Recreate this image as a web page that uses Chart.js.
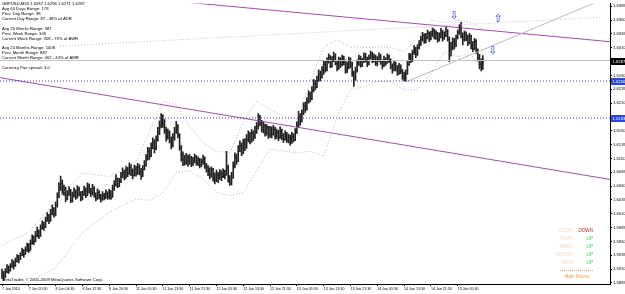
<!DOCTYPE html>
<html>
<head>
<meta charset="utf-8">
<script src="https://cdn.jsdelivr.net/npm/chart.js@4.4.1/dist/chart.umd.min.js"></script>
<style>
  html, body { margin: 0; padding: 0; background: #fff; }
  #wrap { width: 625px; height: 294px; position: relative; }
</style>
</head>
<body>
<div id="wrap"><canvas id="chart" width="625" height="294"></canvas></div>
<script>
// --- Data ---
const xTickLabels = ['7 Jan 2010', '7 Jan 20:30', '8 Jan 04:30', '8 Jan 12:30', '8 Jan 20:30',
  '11 Jan 05:30', '11 Jan 13:30', '11 Jan 21:30', '12 Jan 05:30', '12 Jan 13:30', '12 Jan 21:30',
  '13 Jan 05:30', '13 Jan 13:30', '13 Jan 21:30', '14 Jan 05:30', '14 Jan 13:30', '14 Jan 21:30', '15 Jan 05:30'];
const barsPerLabel = 16;
const yTickValues = [1.5885, 1.5910, 1.5935, 1.5960, 1.5985, 1.6010, 1.6035, 1.6060, 1.6085, 1.6110,
  1.6135, 1.6160, 1.6185, 1.6210, 1.6235, 1.6260, 1.6285, 1.6310, 1.6335, 1.6360, 1.6385];

const firstOpen = 1.5900;
const closes = [
  1.5903,1.5897,1.5906,1.5912,1.5908,1.5915,1.5921,1.5917,1.5925,1.5931,1.5928,1.5936,1.5942,1.5938,1.5946,1.5951,
  1.5945,1.5958,1.5966,1.5960,1.5972,1.5979,1.5970,1.5984,1.5991,1.5986,1.5999,1.6006,1.5998,1.6012,1.6019,1.6010,
  1.6025,1.6041,1.6058,1.6066,1.6049,1.6055,1.6038,1.6046,1.6052,1.6035,1.6043,1.6050,1.6041,1.6055,1.6047,1.6039,
  1.6046,1.6053,1.6044,1.6060,1.6052,1.6048,1.6057,1.6043,1.6038,1.6049,1.6041,1.6036,1.6044,1.6039,1.6047,1.6042,
  1.6048,1.6041,1.6057,1.6064,1.6072,1.6061,1.6069,1.6079,1.6085,1.6076,1.6090,1.6083,1.6095,1.6087,1.6080,1.6092,
  1.6084,1.6095,1.6088,1.6079,1.6091,1.6098,1.6110,1.6124,1.6115,1.6131,1.6140,1.6128,1.6146,1.6158,1.6170,1.6182,
  1.6174,1.6162,1.6150,1.6157,1.6143,1.6135,1.6148,1.6160,1.6168,1.6152,1.6130,1.6118,1.6109,1.6104,1.6112,1.6106,
  1.6110,1.6101,1.6107,1.6114,1.6103,1.6108,1.6099,1.6105,1.6111,1.6098,1.6094,1.6088,1.6081,1.6090,1.6077,1.6072,
  1.6080,1.6074,1.6083,1.6078,1.6086,1.6080,1.6094,1.6071,1.6068,1.6076,1.6098,1.6112,1.6105,1.6126,1.6134,1.6121,
  1.6139,1.6130,1.6146,1.6152,1.6141,1.6156,1.6149,1.6160,1.6168,1.6184,1.6176,1.6164,1.6170,1.6158,1.6166,1.6153,
  1.6161,1.6155,1.6164,1.6150,1.6157,1.6149,1.6160,1.6152,1.6145,1.6156,1.6143,1.6148,1.6140,1.6151,1.6146,1.6158,
  1.6170,1.6186,1.6178,1.6192,1.6205,1.6199,1.6214,1.6226,1.6218,1.6233,1.6246,1.6239,1.6252,1.6263,1.6257,1.6270,
  1.6281,1.6272,1.6286,1.6293,1.6279,1.6288,1.6296,1.6283,1.6275,1.6289,1.6280,1.6291,1.6284,1.6270,1.6278,1.6288,
  1.6279,1.6262,1.6254,1.6270,1.6283,1.6291,1.6278,1.6286,1.6295,1.6288,1.6280,1.6292,1.6299,1.6287,1.6294,1.6282,
  1.6289,1.6296,1.6285,1.6279,1.6290,1.6283,1.6294,1.6288,1.6277,1.6270,1.6281,1.6273,1.6265,1.6276,1.6268,1.6259,
  1.6255,1.6265,1.6281,1.6294,1.6288,1.6302,1.6309,1.6298,1.6312,1.6318,1.6326,1.6333,1.6322,1.6330,1.6337,1.6328,
  1.6335,1.6341,1.6330,1.6336,1.6325,1.6332,1.6339,1.6327,1.6334,1.6340,1.6326,1.6298,1.6311,1.6322,1.6316,1.6329,
  1.6338,1.6347,1.6331,1.6325,1.6335,1.6328,1.6320,1.6331,1.6316,1.6310,1.6322,1.6306,1.6294,1.6281,1.6287,1.6287
];
const highs = [
  1.5910,1.5906,1.5911,1.5918,1.5916,1.5920,1.5927,1.5925,1.5930,1.5936,1.5935,1.5940,1.5948,1.5945,1.5950,1.5957,
  1.5956,1.5963,1.5972,1.5970,1.5978,1.5986,1.5981,1.5990,1.5997,1.5995,1.6004,1.6012,1.6009,1.6018,1.6026,1.6021,
  1.6031,1.6048,1.6066,1.6078,1.6071,1.6062,1.6058,1.6052,1.6059,1.6054,1.6049,1.6057,1.6053,1.6061,1.6058,1.6050,
  1.6051,1.6060,1.6057,1.6066,1.6064,1.6056,1.6063,1.6059,1.6048,1.6055,1.6052,1.6045,1.6050,1.6047,1.6053,1.6050,
  1.6054,1.6052,1.6062,1.6070,1.6081,1.6075,1.6074,1.6085,1.6093,1.6089,1.6096,1.6094,1.6102,1.6099,1.6091,1.6098,
  1.6096,1.6101,1.6099,1.6092,1.6097,1.6106,1.6117,1.6130,1.6129,1.6138,1.6147,1.6144,1.6151,1.6166,1.6178,1.6191,
  1.6189,1.6180,1.6166,1.6163,1.6160,1.6149,1.6155,1.6166,1.6177,1.6171,1.6155,1.6133,1.6122,1.6116,1.6119,1.6116,
  1.6117,1.6114,1.6112,1.6118,1.6115,1.6113,1.6110,1.6109,1.6116,1.6113,1.6101,1.6097,1.6093,1.6095,1.6092,1.6084,
  1.6089,1.6085,1.6090,1.6088,1.6091,1.6089,1.6123,1.6098,1.6079,1.6085,1.6104,1.6120,1.6118,1.6133,1.6142,1.6138,
  1.6145,1.6146,1.6153,1.6160,1.6157,1.6162,1.6160,1.6168,1.6175,1.6191,1.6188,1.6179,1.6177,1.6172,1.6171,1.6168,
  1.6168,1.6167,1.6170,1.6166,1.6163,1.6161,1.6167,1.6163,1.6155,1.6160,1.6157,1.6154,1.6152,1.6157,1.6155,1.6164,
  1.6176,1.6195,1.6191,1.6198,1.6211,1.6212,1.6220,1.6232,1.6230,1.6240,1.6253,1.6251,1.6259,1.6270,1.6268,1.6276,
  1.6287,1.6286,1.6292,1.6299,1.6296,1.6294,1.6302,1.6299,1.6286,1.6293,1.6292,1.6297,1.6295,1.6288,1.6284,1.6293,
  1.6292,1.6284,1.6268,1.6275,1.6288,1.6297,1.6295,1.6291,1.6301,1.6300,1.6293,1.6297,1.6304,1.6302,1.6299,1.6297,
  1.6294,1.6301,1.6298,1.6288,1.6295,1.6292,1.6299,1.6297,1.6290,1.6281,1.6286,1.6284,1.6278,1.6282,1.6279,1.6271,
  1.6266,1.6270,1.6287,1.6300,1.6299,1.6306,1.6314,1.6311,1.6316,1.6323,1.6331,1.6338,1.6335,1.6336,1.6342,1.6339,
  1.6340,1.6346,1.6344,1.6341,1.6338,1.6337,1.6345,1.6342,1.6339,1.6347,1.6343,1.6330,1.6320,1.6328,1.6327,1.6333,
  1.6342,1.6352,1.6356,1.6337,1.6340,1.6339,1.6333,1.6336,1.6333,1.6321,1.6327,1.6325,1.6308,1.6298,1.6290,1.6296
];
const lows = [
  1.5893,1.5889,1.5895,1.5903,1.5902,1.5906,1.5913,1.5910,1.5915,1.5923,1.5921,1.5927,1.5934,1.5931,1.5937,1.5942,
  1.5940,1.5944,1.5955,1.5954,1.5959,1.5968,1.5965,1.5969,1.5982,1.5980,1.5985,1.5996,1.5992,1.5996,1.6008,1.6004,
  1.6006,1.6022,1.6039,1.6052,1.6045,1.6043,1.6032,1.6035,1.6043,1.6030,1.6031,1.6040,1.6036,1.6038,1.6042,1.6033,
  1.6035,1.6043,1.6039,1.6042,1.6047,1.6041,1.6044,1.6040,1.6033,1.6036,1.6037,1.6031,1.6034,1.6035,1.6038,1.6036,
  1.6037,1.6036,1.6040,1.6052,1.6060,1.6057,1.6059,1.6066,1.6075,1.6071,1.6074,1.6077,1.6081,1.6079,1.6073,1.6078,
  1.6078,1.6081,1.6080,1.6072,1.6077,1.6089,1.6096,1.6107,1.6108,1.6113,1.6127,1.6120,1.6126,1.6141,1.6153,1.6165,
  1.6166,1.6155,1.6141,1.6145,1.6138,1.6127,1.6131,1.6143,1.6155,1.6147,1.6125,1.6105,1.6097,1.6098,1.6099,1.6096,
  1.6099,1.6095,1.6097,1.6102,1.6098,1.6097,1.6093,1.6095,1.6099,1.6092,1.6085,1.6079,1.6073,1.6076,1.6069,1.6064,
  1.6068,1.6066,1.6072,1.6070,1.6075,1.6073,1.6080,1.6067,1.6061,1.6062,1.6074,1.6093,1.6099,1.6104,1.6122,1.6115,
  1.6118,1.6124,1.6128,1.6140,1.6136,1.6139,1.6142,1.6146,1.6155,1.6163,1.6169,1.6158,1.6156,1.6150,1.6152,1.6146,
  1.6148,1.6147,1.6152,1.6145,1.6146,1.6142,1.6146,1.6144,1.6139,1.6143,1.6139,1.6138,1.6134,1.6137,1.6140,1.6142,
  1.6155,1.6166,1.6170,1.6176,1.6189,1.6193,1.6197,1.6210,1.6212,1.6216,1.6230,1.6234,1.6238,1.6249,1.6250,1.6255,
  1.6262,1.6266,1.6268,1.6282,1.6274,1.6275,1.6285,1.6279,1.6268,1.6271,1.6274,1.6277,1.6279,1.6264,1.6265,1.6272,
  1.6274,1.6258,1.6240,1.6251,1.6266,1.6278,1.6275,1.6276,1.6283,1.6284,1.6276,1.6279,1.6290,1.6283,1.6284,1.6278,
  1.6277,1.6285,1.6280,1.6272,1.6276,1.6278,1.6282,1.6283,1.6272,1.6264,1.6268,1.6268,1.6260,1.6262,1.6263,1.6253,
  1.6250,1.6249,1.6262,1.6278,1.6283,1.6285,1.6298,1.6292,1.6296,1.6308,1.6314,1.6322,1.6318,1.6319,1.6326,1.6321,
  1.6324,1.6330,1.6326,1.6325,1.6320,1.6322,1.6328,1.6322,1.6325,1.6330,1.6322,1.6285,1.6295,1.6306,1.6308,1.6312,
  1.6326,1.6334,1.6328,1.6315,1.6322,1.6323,1.6314,1.6317,1.6308,1.6303,1.6306,1.6300,1.6286,1.6272,1.6268,1.6271
];

// Bollinger bands, sampled from the dotted curves
const bandBars  = [0, 16, 32, 48, 64, 72, 80, 88, 96, 104, 112, 120, 128, 136, 144, 152, 160, 168, 176, 184, 192, 200, 208, 216, 224, 232, 240, 248, 256, 264, 272, 280, 287];
const bandUpper = [1.5953, 1.5976, 1.6034, 1.6084, 1.6077, 1.6091, 1.6105, 1.6159, 1.6213, 1.6208, 1.6168, 1.6138, 1.6123, 1.6120, 1.6177, 1.6213, 1.6199, 1.6186, 1.6181, 1.6249, 1.6311, 1.6324, 1.6311, 1.6311, 1.6311, 1.6311, 1.6303, 1.6329, 1.6360, 1.6356, 1.6360, 1.6356, 1.6342];
const bandLower = [1.5872, 1.5887, 1.5912, 1.5976, 1.6012, 1.6025, 1.6037, 1.6034, 1.6048, 1.6084, 1.6088, 1.6073, 1.6048, 1.6043, 1.6048, 1.6088, 1.6127, 1.6123, 1.6120, 1.6123, 1.6114, 1.6186, 1.6234, 1.6240, 1.6249, 1.6249, 1.6234, 1.6234, 1.6263, 1.6303, 1.6294, 1.6299, 1.6263];

// Objects drawn on the chart
const bidPrice = 1.6287;
const levelPrices = [1.6250, 1.6183];
const upperPurpleBars = [111, 362.9];
const upperPurplePrices = [1.6392, 1.6321];
const lowerPurpleBars = [-1.2, 362.9];
const lowerPurplePrices = [1.6256, 1.6072];
const grayTrendBars = [241.8, 363];
const grayTrendPrices = [1.6249, 1.6403];
const dottedTrendBars = [34.6, 357];
const dottedTrendPrices = [1.6313, 1.6365];
const arrowBars = [269.9, 296.1, 293];
const arrowPrices = [1.6367, 1.6362, 1.6304];
const arrowGlyphs = ['\u21E9', '\u21E7', '\u21E9'];

const infoLines = [
  ['GBPUSD,M30 1.6287 1.6296 1.6271 1.6287', 4],
  ['Avg 60 Days Range: 178', 9],
  ['Prev. Day Range: 98', 14],
  ['Current Day Range: 87 - 48% of ADR', 19],
  ['Avg 26 Weeks Range: 587', 29],
  ['Prev. Week Range: 345', 34],
  ['Current Week Range: 308 - 79% of AWR', 39],
  ['Avg 24 Months Range: 1008', 48],
  ['Prev. Month Range: 887', 53],
  ['Current Month Range: 462 - 44% of AMR', 58],
  ['Currency Pair spread: 3.0', 68]
];
const moveNames = ['TODAY', 'Y-DAY', 'WEEK', 'MONTH', 'YEAR'];
const moveValues = ['DOWN', 'UP', 'UP', 'UP', 'UP'];

const FONT = 'Liberation Sans, Arial, sans-serif';

const pts = (xs, ys) => xs.map((v, i) => ({ x: v, y: ys[i] }));
const lineSet = (data, color, dash) => ({
  type: 'line', data, borderColor: color, borderWidth: 1, borderDash: dash || [],
  pointRadius: 0, fill: false, tension: 0
});

// --- Plugins ---
const ohlcTicks = {
  id: 'ohlcTicks',
  afterDatasetsDraw(chart) {
    const { ctx, chartArea, scales: { x, y } } = chart;
    ctx.save();
    ctx.beginPath();
    ctx.rect(chartArea.left, chartArea.top, chartArea.width, chartArea.height);
    ctx.clip();
    ctx.strokeStyle = '#222';
    ctx.lineWidth = 1;
    ctx.beginPath();
    closes.forEach((c, i) => {
      const px = x.getPixelForValue(i);
      const o = i ? closes[i - 1] : firstOpen;
      const yo = Math.round(y.getPixelForValue(o)) + 0.5;
      const yc = Math.round(y.getPixelForValue(c)) + 0.5;
      ctx.moveTo(px - 0.9, yo); ctx.lineTo(px, yo);
      ctx.moveTo(px, yc); ctx.lineTo(px + 0.9, yc);
    });
    ctx.stroke();
    // arrows
    ctx.fillStyle = '#2a3cc8';
    ctx.font = '11px DejaVu Sans';
    ctx.textAlign = 'center';
    ctx.textBaseline = 'middle';
    arrowGlyphs.forEach((g, i) => {
      ctx.fillText(g, x.getPixelForValue(arrowBars[i]), y.getPixelForValue(arrowPrices[i]));
    });
    ctx.restore();
  }
};

const overlays = {
  id: 'overlays',
  afterDraw(chart) {
    const { ctx, chartArea, scales: { y } } = chart;
    ctx.save();
    // price boxes on the axis
    const box = (price, bg) => {
      const py = Math.round(y.getPixelForValue(price));
      ctx.fillStyle = bg;
      ctx.fillRect(chartArea.right + 1, py - 3, 14, 7);
      ctx.fillStyle = '#fff';
      ctx.font = '4.2px ' + FONT;
      ctx.textAlign = 'left';
      ctx.textBaseline = 'middle';
      ctx.fillText(price.toFixed(4), chartArea.right + 2.5, py + 0.5);
    };
    box(bidPrice, '#000');
    levelPrices.forEach(p => box(p, '#2b45e6'));

    // info text, top-left
    ctx.fillStyle = '#000';
    ctx.font = '4.2px ' + FONT;
    ctx.textAlign = 'left';
    ctx.textBaseline = 'middle';
    infoLines.forEach(([t, ty]) => ctx.fillText(t, 2, ty));
    ctx.fillText('MetaTrader, \u00A9 2001-2009 MetaQuotes Software Corp.', 2, 280);

    // main moves box, bottom-right
    ctx.font = '4.6px ' + FONT;
    moveNames.forEach((n, i) => {
      const ty = 231 + i * 8;
      ctx.textAlign = 'right';
      ctx.fillStyle = '#f2dcc4';
      ctx.fillText(n, 573, ty);
      ctx.fillStyle = moveValues[i] === 'DOWN' ? '#c02828' : '#33cc33';
      ctx.fillText(moveValues[i], 593, ty);
    });
    ctx.strokeStyle = '#e8a850';
    ctx.setLineDash([1, 1]);
    ctx.beginPath();
    ctx.moveTo(560, 270.5); ctx.lineTo(593, 270.5);
    ctx.stroke();
    ctx.setLineDash([]);
    ctx.fillStyle = '#e0a048';
    ctx.textAlign = 'center';
    ctx.fillText('Main Moves', 577, 277);
    ctx.restore();
  }
};

const barData = closes.map((c, i) => ({ x: i, y: [lows[i], highs[i]] }));
const xMin = -1.2, xMax = 362.9;

new Chart(document.getElementById('chart'), {
  type: 'bar',
  data: {
    datasets: [
      { type: 'bar', data: barData, backgroundColor: '#222', borderWidth: 0, barThickness: 1, order: 2 },
      lineSet(pts(bandBars, bandUpper), '#b4b4b4', [1, 2]),
      lineSet(pts(bandBars, bandLower), '#b4b4b4', [1, 2]),
      lineSet(pts([xMin, xMax], [bidPrice, bidPrice]), '#c4c4c4'),
      lineSet(pts([xMin, xMax], [levelPrices[0], levelPrices[0]]), '#3a3aa8', [1, 2]),
      lineSet(pts([xMin, xMax], [levelPrices[1], levelPrices[1]]), '#3a3aa8', [1, 2]),
      lineSet(pts(dottedTrendBars, dottedTrendPrices), '#c8b4c8', [1, 2]),
      lineSet(pts(grayTrendBars, grayTrendPrices), '#b8b8b8'),
      lineSet(pts(upperPurpleBars, upperPurplePrices), '#a04cab'),
      lineSet(pts(lowerPurpleBars, lowerPurplePrices), '#a04cab')
    ]
  },
  options: {
    responsive: false,
    animation: false,
    devicePixelRatio: 1,
    layout: { padding: { top: 1, left: 0, right: 0, bottom: 0 } },
    plugins: { legend: { display: false }, tooltip: { enabled: false } },
    scales: {
      x: {
        type: 'linear', min: xMin, max: xMax, offset: false,
        grid: { display: true, offset: false, drawOnChartArea: false, drawTicks: true, tickLength: 2, color: '#000' },
        border: { display: true, color: '#000' },
        afterBuildTicks: s => { s.ticks = xTickLabels.map((_, k) => ({ value: k * barsPerLabel })); },
        afterFit: s => { s.height = 10; },
        ticks: {
          autoSkip: false, maxRotation: 0, align: 'start', padding: 1, color: '#000',
          font: { family: FONT, size: 3.6 },
          callback: v => xTickLabels[Math.round(v / barsPerLabel)]
        }
      },
      y: {
        position: 'right', min: 1.5883, max: 1.6390,
        grid: { display: true, drawOnChartArea: false, drawTicks: true, tickLength: 2, color: '#000' },
        border: { display: true, color: '#000' },
        afterBuildTicks: s => { s.ticks = yTickValues.map(v => ({ value: v })); },
        afterFit: s => { s.width = 15; },
        ticks: {
          autoSkip: false, padding: 1, color: '#000',
          font: { family: FONT, size: 4.2 },
          callback: v => v.toFixed(4)
        }
      }
    }
  },
  plugins: [ohlcTicks, overlays]
});
</script>
</body>
</html>
